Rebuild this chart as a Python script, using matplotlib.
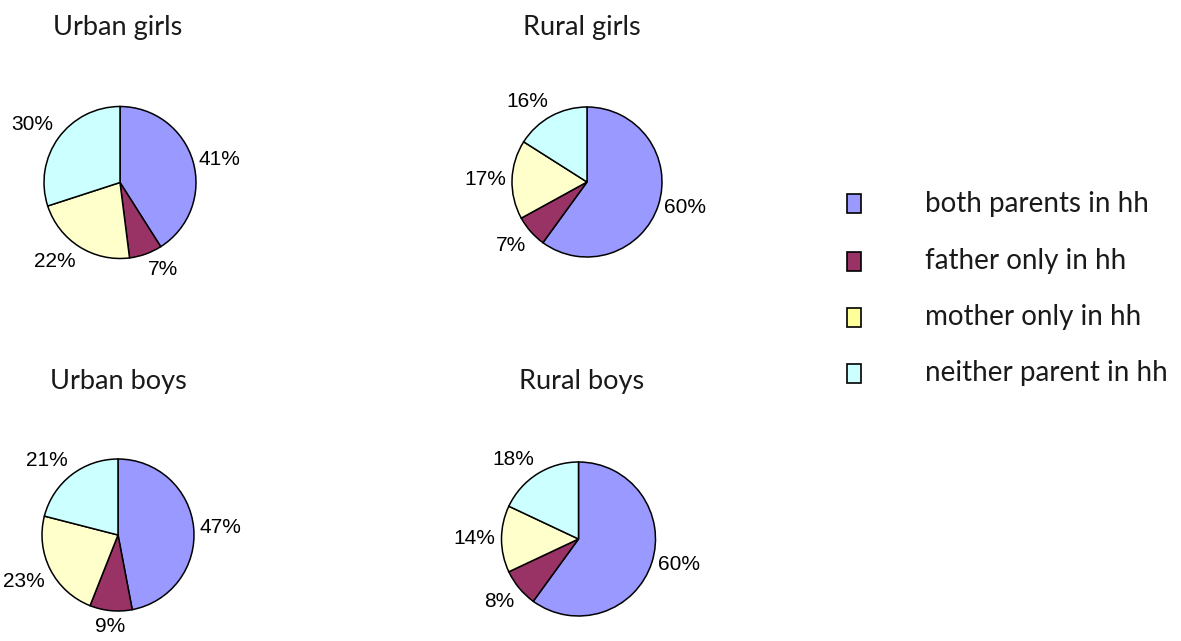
import numpy as np
import matplotlib
matplotlib.use("Agg")
import matplotlib.pyplot as plt
from matplotlib.patches import Rectangle

titles = ["Urban girls", "Rural girls", "Urban boys", "Rural boys"]
categories = ["both parents in hh", "father only in hh", "mother only in hh", "neither parent in hh"]
urban_girls = [41, 7, 22, 30]
rural_girls = [60, 7, 17, 16]
urban_boys = [47, 9, 23, 21]
rural_boys = [60, 8, 14, 18]
series = [urban_girls, rural_girls, urban_boys, rural_boys]

pie_colors = ["#9999FF", "#993366", "#FFFFCC", "#CCFFFF"]
legend_colors = ["#9999FF", "#993366", "#FFFF99", "#CCFFFF"]

W, H = 1181, 641
fig = plt.figure(figsize=(W / 100, H / 100), dpi=100)

# pie centers / radii in pixels (layout)
layout = [(120, 182.5, 76), (587, 182, 75), (118, 535, 76), (578.5, 539, 77)]
title_pos = [(118, 27), (582, 27), (118, 382), (582, 382)]

title_font = "Lato"
label_font = "Liberation Sans"

for vals, (cx, cy, r), title, (tx, ty) in zip(series, layout, titles, title_pos):
    ax = fig.add_axes([(cx - r) / W, (H - cy - r) / H, 2 * r / W, 2 * r / H])
    ax.pie(vals, colors=pie_colors, startangle=90, counterclock=False,
           wedgeprops=dict(edgecolor="black", linewidth=1.1), radius=1.0)
    ax.set_xlim(-1, 1)
    ax.set_ylim(-1, 1)
    ax.set_aspect("auto")
    ax.axis("off")
    total = sum(vals)
    cum = 0
    for v in vals:
        mid = (cum + v / 2) / total * 2 * np.pi
        cum += v
        s, c = np.sin(mid), np.cos(mid)
        d = 1.08
        ha = "left" if s > 0.3 else ("right" if s < -0.3 else "center")
        va = "center" if abs(c) < 0.4 else ("bottom" if c > 0 else "top")
        ax.text(d * s, d * c, f"{v}%", ha=ha, va=va, fontsize=15,
                family=label_font, clip_on=False)
    fig.text(tx / W, 1 - ty / H, title, ha="center", va="center",
             fontsize=19.5, family=title_font, color="#1a1a1a")

# legend
leg_y = [204, 261, 317, 373]
for lab, col, y in zip(categories, legend_colors, leg_y):
    fig.patches.append(Rectangle((847 / W, 1 - (y + 9.5) / H), 14 / W, 19 / H,
                                 transform=fig.transFigure, facecolor=col,
                                 edgecolor="black", linewidth=1.2))
    fig.text(925 / W, 1 - y / H, lab, ha="left", va="center", fontsize=20,
             family=title_font, color="#1a1a1a")

fig.savefig("out.png", dpi=100)
